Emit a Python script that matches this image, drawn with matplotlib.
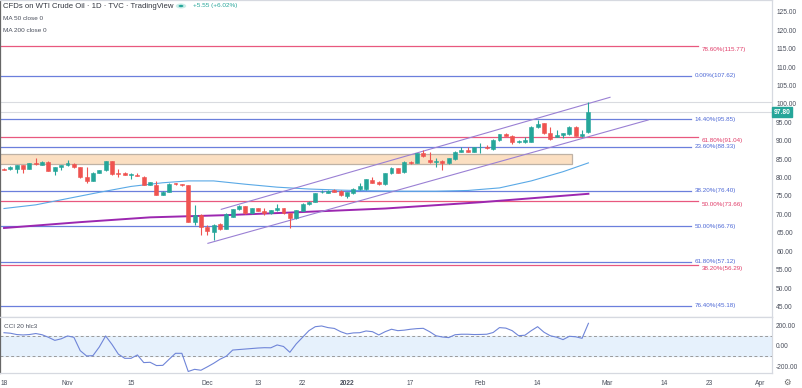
import matplotlib
matplotlib.use("Agg")
import matplotlib.pyplot as plt
import numpy as np
from matplotlib.patches import Rectangle

plt.rcParams['font.family'] = ['Liberation Sans', 'DejaVu Sans']

# ---------------- data ----------------
opens = [82.35, 82.25, 82.25, 83.34, 82.42, 83.88, 83.50, 84.24, 81.87, 82.96,
         83.34, 83.70, 82.80, 80.08, 79.16, 81.33, 82.06, 84.43, 81.33, 81.17,
         80.79, 80.79, 80.24, 78.07, 78.07, 75.35, 76.17, 78.45, 78.15, 77.91,
         68.02, 69.84, 66.49, 65.30, 67.39, 66.11, 69.37, 71.38, 72.28, 70.30,
         71.66, 70.92, 70.30, 71.19, 71.66, 70.30, 68.94, 71.00, 72.83, 73.45,
         76.10, 75.90, 76.63, 76.36, 75.08, 75.73, 76.82, 76.90, 79.35, 78.88,
         78.26, 81.17, 82.53, 81.44, 84.32, 84.05, 86.60, 84.78, 84.32, 84.59,
         83.88, 85.05, 87.04, 87.42, 87.04, 88.23, 88.40, 87.69, 90.22, 91.76,
         91.38, 89.59, 89.75, 89.75, 93.83, 94.75, 92.04, 91.11, 91.58, 91.76,
         93.83, 91.38, 92.31]
highs = [82.6, 83.1, 83.5, 83.5, 84.0, 85.24, 84.4, 84.4, 82.9, 83.5,
         84.78, 83.9, 82.9, 82.96, 81.5, 82.2, 84.6, 84.6, 82.25, 81.4,
         81.33, 81.33, 80.4, 78.88, 79.16, 76.3, 78.4, 78.6, 78.3, 78.1,
         72.55, 70.0, 67.12, 67.3, 67.6, 70.3, 71.5, 72.5, 72.4, 71.8,
         71.8, 71.66, 71.3, 72.83, 71.8, 70.4, 71.3, 73.0, 73.6, 75.9,
         76.5, 76.6, 76.8, 76.5, 76.2, 77.1, 78.45, 79.7, 80.24, 79.0,
         81.3, 82.9, 82.7, 84.5, 84.5, 86.8, 87.42, 87.04, 85.41, 84.8,
         85.4, 87.2, 88.2, 88.2, 88.4, 89.32, 88.86, 90.4, 91.9, 92.0,
         91.5, 90.1, 91.11, 94.0, 95.65, 94.9, 93.83, 92.93, 92.2, 94.0,
         94.0, 92.93, 100.62]
lows = [82.0, 82.1, 81.17, 81.17, 82.3, 83.5, 83.4, 81.7, 80.71, 82.06,
        83.2, 82.6, 79.9, 78.61, 79.0, 81.2, 81.9, 80.8, 80.24, 80.6,
        79.70, 80.3, 77.9, 77.9, 75.2, 75.2, 76.0, 78.1, 77.7, 67.8,
        67.12, 64.40, 64.40, 63.04, 65.8, 65.9, 69.2, 71.2, 70.1, 70.1,
        70.8, 69.84, 70.1, 71.0, 70.1, 66.22, 68.8, 70.8, 72.6, 73.3,
        75.8, 75.7, 76.0, 75.1, 74.37, 75.6, 76.6, 76.7, 78.5, 78.1,
        78.1, 81.0, 81.2, 81.3, 83.7, 83.9, 85.7, 83.88, 82.96, 82.06,
        83.7, 84.9, 86.9, 86.9, 86.9, 86.6, 87.8, 87.5, 90.0, 91.2,
        89.2, 89.3, 89.5, 89.6, 93.6, 91.9, 90.2, 90.9, 90.68, 91.6,
        91.2, 91.11, 92.2]
closes = [82.2, 82.96, 83.34, 82.25, 83.88, 83.70, 84.24, 81.87, 82.80, 83.34,
          83.88, 82.80, 80.08, 78.99, 81.33, 82.06, 84.43, 80.98, 80.98, 80.79,
          80.85, 80.43, 78.07, 78.72, 75.35, 76.17, 78.26, 78.26, 77.91, 67.93,
          69.84, 66.49, 65.57, 67.12, 65.95, 70.11, 71.38, 72.28, 70.30, 71.66,
          70.92, 70.30, 71.19, 71.66, 70.30, 68.94, 71.19, 72.83, 73.45, 75.73,
          76.17, 76.36, 76.17, 75.27, 76.00, 76.90, 77.72, 79.54, 78.61, 78.26,
          81.17, 82.69, 81.33, 84.32, 83.88, 86.60, 85.87, 84.32, 84.59, 83.88,
          85.24, 87.04, 87.42, 87.04, 88.23, 88.40, 87.96, 90.22, 91.76, 91.38,
          89.75, 89.94, 90.22, 93.83, 94.48, 92.04, 90.41, 91.58, 92.04, 93.83,
          91.38, 91.93, 97.80]

cci = [130, 125, 112, 108, 112, 122, 110, 85, 55, 70,
       98, 85, -46, -98, -95, -10, 98, 15, -80, -121,
       -121, -88, -163, -160, -192, -190, -130, -72, -72, -250,
       -229, -238, -205, -170, -130, -100, -40, -35, -30, -25,
       -20, -17, -18, 10, -5, -62, 20, 85, 150, 189,
       196, 180, 172, 140, 118, 128, 130, 147, 140, 108,
       140, 164, 150, 155, 164, 170, 173, 140, 100, 88,
       82, 110, 115, 115, 112, 113, 115, 132, 180, 175,
       150, 101, 105, 150, 189, 135, 100, 86, 62, 95,
       90, 75, 222]

ma50_bars = [0, 5, 10, 15, 20, 25, 29, 33, 38, 43, 48, 53, 58, 63, 68, 73, 78, 83, 88, 92]
ma50_vals = [71.6, 72.6, 74.3, 76.0, 77.6, 78.6, 79.1, 79.1, 78.2, 77.4,
             76.9, 76.6, 76.4, 76.3, 76.3, 76.5, 77.2, 79.1, 81.6, 84.0]
ma200_bars = [0, 12, 23, 35, 45, 60, 75, 92]
ma200_vals = [66.3, 67.9, 69.2, 69.8, 70.5, 71.6, 73.3, 75.6]

chan_upper_x = [34.2, 95.4]
chan_upper_y = [71.38, 101.82]
chan_lower_x = [32.1, 101.4]
chan_lower_y = [62.14, 95.65]

zone_x = [-1.0, 89.4]
zone_y = [83.8, 86.3]

fib_blue_labels = ['0.00%', '14.40%', '23.60%', '38.20%', '50.00%', '61.80%', '76.40%']
fib_blue_vals = [107.62, 95.85, 88.33, 76.40, 66.76, 57.12, 45.18]
fib_red_labels = ['78.60%', '61.80%', '50.00%', '38.20%']
fib_red_vals = [115.77, 91.04, 73.66, 56.29]
fib_blue_end = 108.2
fib_red_end = 109.3

day_high = 100.62
last_price = 97.80

xtick_pos = [0, 10, 20, 32, 40, 47, 54, 64, 75, 84, 95, 104, 111, 119]
xtick_lab = ['18', 'Nov', '15', 'Dec', '13', '22', '2022', '17', 'Feb', '14', 'Mar', '14', '23', 'Apr']
price_ticks = list(range(45, 130, 5))
cci_ticks = [200, 0, -200]

# ---------------- figure ----------------
W, H = 802, 388
fig = plt.figure(figsize=(W / 100, H / 100), dpi=100)
fig.patch.set_facecolor('white')

def fx(px):
    return px / W

def fy(py):
    return 1 - py / H

right_px = 772
ax = fig.add_axes([0, fy(317), fx(right_px), fy(0) - fy(317)])
axc = fig.add_axes([0, fy(373), fx(right_px), fy(317) - fy(373)])

xlim = (-0.63, 120.9)
sep = '#d6d9e0'
txtc = '#4a4f5c'

UP, DOWN = '#26a69a', '#ef5350'
BLUE_L, BLUE_T = '#6b7fdc', '#4d68d6'
RED_L, RED_T = '#e8587f', '#e03c68'

for a in (ax, axc):
    a.set_xlim(*xlim)
    a.set_facecolor('white')
    for s in ('top', 'bottom', 'right'):
        a.spines[s].set_color(sep)
        a.spines[s].set_linewidth(0.9)
    a.spines['left'].set_color('#666666')
    a.spines['left'].set_linewidth(0.9)
    a.yaxis.tick_right()
    a.tick_params(axis='y', length=0, pad=3, labelsize=4.8, labelcolor=txtc)
    a.tick_params(axis='x', length=0)

ax.set_ylim(42.12, 128.26)
ax.set_yticks(price_ticks)
ax.set_yticklabels([f'{v:.2f}' for v in price_ticks])
ax.set_xticks([])

# price reference lines
ax.axhline(day_high, color='#d9dbe0', lw=0.8, zorder=1)
ax.axhline(last_price, color='#d9dbe0', lw=0.8, zorder=1)

# zone
ax.add_patch(Rectangle((zone_x[0], zone_y[0]), zone_x[1] - zone_x[0], zone_y[1] - zone_y[0],
                       facecolor='#fbdfc2', edgecolor='#bfb2a5', lw=0.9, zorder=1))

# fib lines
for lab, v in zip(fib_blue_labels, fib_blue_vals):
    ax.plot([xlim[0], fib_blue_end], [v, v], color=BLUE_L, lw=0.9, zorder=2)
    ax.annotate(f'{lab}({v:.2f})', (fib_blue_end, v), xytext=(2.2, 0), textcoords='offset points',
                va='center', ha='left', fontsize=4.5, color=BLUE_T)
for lab, v in zip(fib_red_labels, fib_red_vals):
    ax.plot([xlim[0], fib_red_end], [v, v], color=RED_L, lw=0.9, zorder=2)
    ax.annotate(f'{lab}({v:.2f})', (fib_red_end, v), xytext=(2.2, -2.6), textcoords='offset points',
                va='center', ha='left', fontsize=4.5, color=RED_T)

# moving averages
ax.plot(ma50_bars, ma50_vals, color='#5aa9e6', lw=0.8, zorder=3)
ax.plot(ma200_bars, ma200_vals, color='#9c27b0', lw=1.4, zorder=3)

# channel
ax.plot(chan_upper_x, chan_upper_y, color='#9a80d4', lw=0.8, zorder=3)
ax.plot(chan_lower_x, chan_lower_y, color='#9a80d4', lw=0.8, zorder=3)

# candles
o = np.array(opens); h = np.array(highs); l = np.array(lows); c = np.array(closes)
idx = np.arange(len(o))
cols = np.where(c >= o, UP, DOWN)
ax.vlines(idx, l, h, colors=cols, lw=0.8, zorder=4)
ax.bar(idx, np.abs(c - o), bottom=np.minimum(o, c), width=0.62, color=cols,
       edgecolor=cols, lw=0.4, zorder=5)

# last price tag
ax.annotate(f'{last_price:.2f}', (1.0, last_price), xycoords=('axes fraction', 'data'),
            xytext=(1.2, 0), textcoords='offset points', ha='left', va='center',
            fontsize=4.8, color='white', fontweight='bold',
            bbox=dict(boxstyle='square,pad=0.25', fc=UP, ec=UP), annotation_clip=False)

# CCI panel
axc.set_ylim(-265, 284)
axc.axhspan(-100, 100, color='#e6f1fc', zorder=0)
axc.axhline(100, color='#9a9a9a', lw=0.7, ls=(0, (3, 2.5)), zorder=1)
axc.axhline(-100, color='#9a9a9a', lw=0.7, ls=(0, (3, 2.5)), zorder=1)
axc.plot(idx, cci, color='#6f85d8', lw=0.8, zorder=3)
axc.set_yticks(cci_ticks)
axc.set_yticklabels([f'{v:.2f}' for v in cci_ticks])
axc.set_xticks(xtick_pos)
axc.set_xticklabels(xtick_lab)
axc.tick_params(axis='x', labelsize=4.8, labelcolor=txtc, pad=5)
for t in axc.get_xticklabels():
    if t.get_text() == '2022':
        t.set_fontweight('bold')
axc.text(0.005, 0.83, 'CCI 20 hlc3', transform=axc.transAxes, fontsize=4.6, color=txtc, va='center')

# header texts
fig.text(fx(3), fy(6), 'CFDs on WTI Crude Oil · 1D · TVC · TradingView', fontsize=5.6,
         color='#333740', va='center', ha='left')
fig.patches.append(plt.Circle((fx(181), fy(6)), 0.0065, transform=fig.transFigure,
                              facecolor='#c9ede8', edgecolor='none'))
fig.patches.append(plt.Circle((fx(181), fy(6)), 0.003, transform=fig.transFigure,
                              facecolor=UP, edgecolor='none'))
fig.text(fx(193), fy(6), '+5.55 (+6.02%)', fontsize=4.6, color=UP, va='center', ha='left')
fig.text(fx(3), fy(18), 'MA 50 close 0', fontsize=4.6, color=txtc, va='center', ha='left')
fig.text(fx(3), fy(31), 'MA 200 close 0', fontsize=4.6, color=txtc, va='center', ha='left')
fig.text(fx(787), fy(382), '⚙', fontsize=6, color='#666666', va='center', ha='center',
         family='DejaVu Sans')

fig.savefig('out.png', dpi=100, facecolor='white')
